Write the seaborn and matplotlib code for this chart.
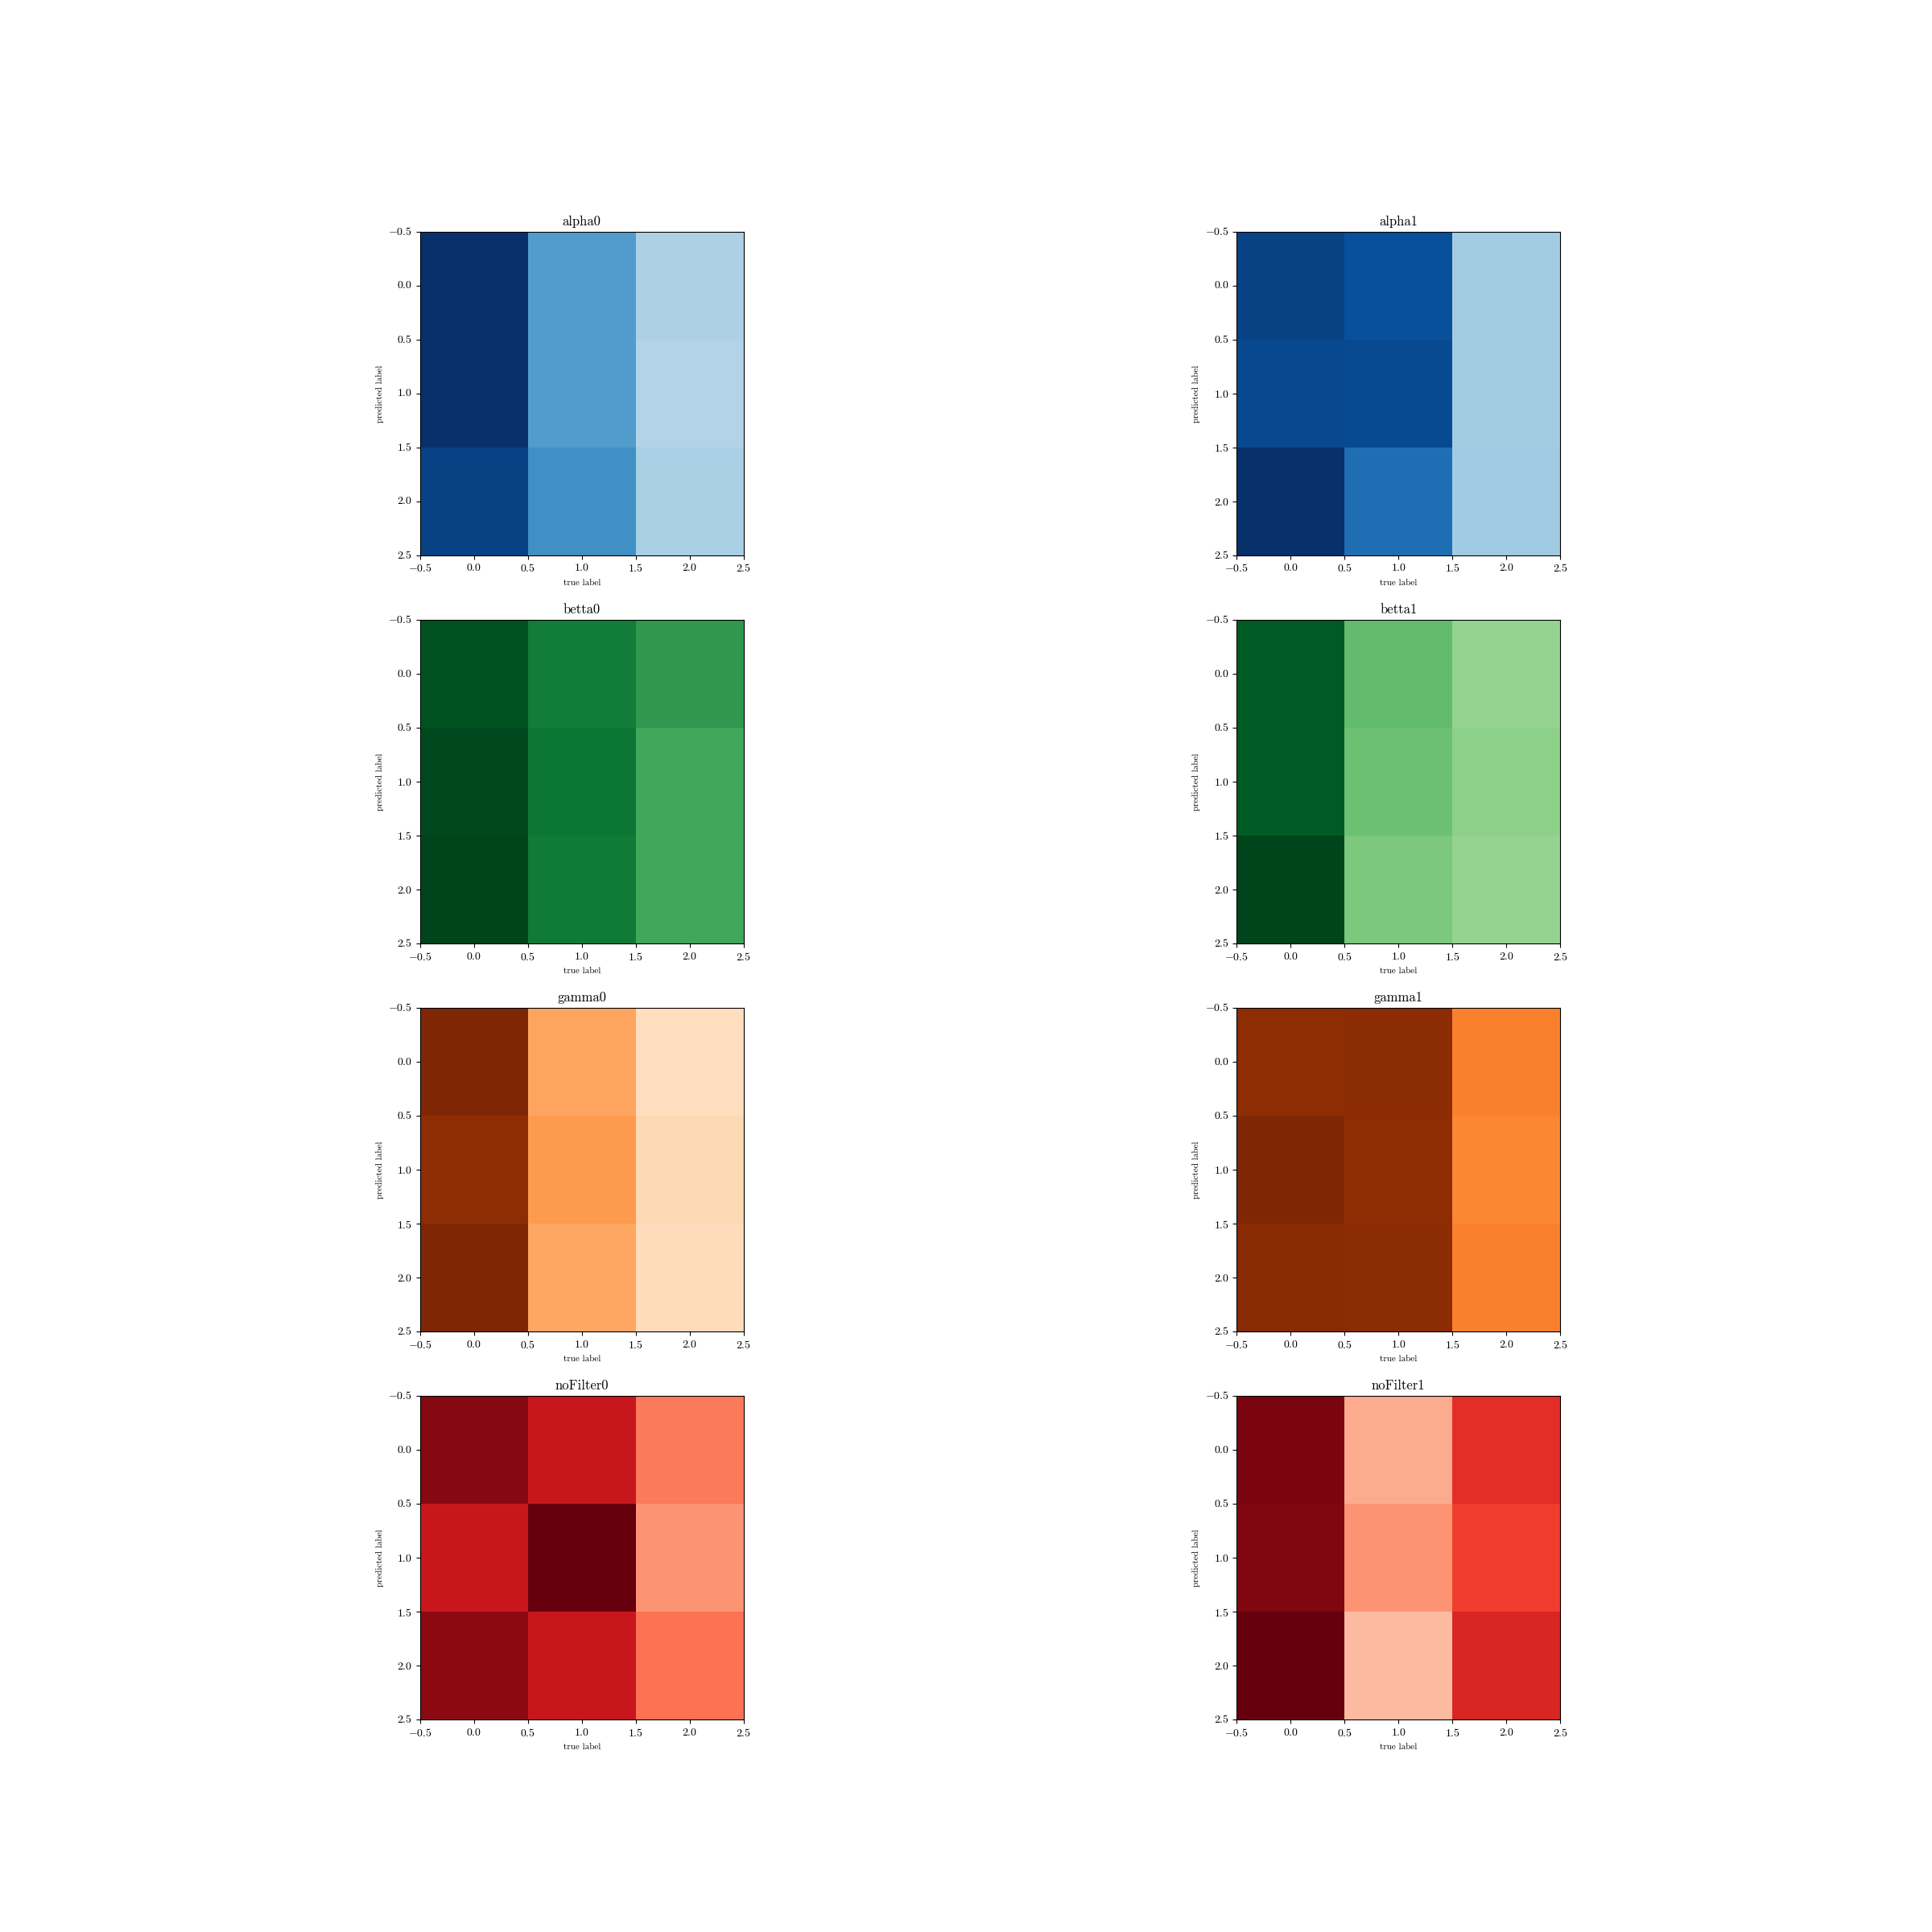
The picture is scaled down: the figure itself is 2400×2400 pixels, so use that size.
import numpy as np
import matplotlib
matplotlib.use("Agg")
import matplotlib.pyplot as plt
import seaborn as sns

# panel titles and colour maps
titles = ["alpha0", "alpha1", "betta0", "betta1", "gamma0", "gamma1", "noFilter0", "noFilter1"]
cmaps = ["Blues", "Blues", "Greens", "Greens", "Oranges", "Oranges", "Reds", "Reds"]

# confusion values (rows = predicted, cols = true)
alpha0 = [[1.00, 0.58, 0.33],
          [1.00, 0.58, 0.31],
          [0.93, 0.63, 0.34]]
alpha1 = [[0.93, 0.875, 0.36],
          [0.91, 0.90, 0.36],
          [1.00, 0.76, 0.37]]
betta0 = [[0.96, 0.81, 0.70],
          [0.985, 0.83, 0.635],
          [1.00, 0.82, 0.635]]
betta1 = [[0.93, 0.54, 0.41],
          [0.93, 0.52, 0.43],
          [1.00, 0.48, 0.41]]
gamma0 = [[1.00, 0.41, 0.17],
          [0.95, 0.45, 0.20],
          [1.00, 0.40, 0.18]]
gamma1 = [[0.95, 0.96, 0.54],
          [1.00, 0.95, 0.52],
          [0.97, 0.96, 0.54]]
noFilter0 = [[0.935, 0.76, 0.45],
             [0.76, 1.00, 0.37],
             [0.925, 0.76, 0.47]]
noFilter1 = [[0.96, 0.30, 0.67],
             [0.947, 0.37, 0.62],
             [1.00, 0.25, 0.70]]
matrices = [alpha0, alpha1, betta0, betta1, gamma0, gamma1, noFilter0, noFilter1]

tick_values = [-0.5, 0.0, 0.5, 1.0, 1.5, 2.0, 2.5]

plt.rcParams["font.family"] = "serif"
plt.rcParams["font.serif"] = ["cmr10", "DejaVu Serif"]
plt.rcParams["mathtext.fontset"] = "cm"
plt.rcParams["axes.unicode_minus"] = False

fig, axes = plt.subplots(4, 2, figsize=(24, 24), dpi=100)

for ax, m, title, cmap in zip(axes.flat, matrices, titles, cmaps):
    sns.heatmap(np.array(m), ax=ax, cmap=cmap, vmin=0, vmax=1, cbar=False,
                square=True, linewidths=0)
    pos = [v + 0.5 for v in tick_values]
    labels = ["$%.1f$" % v for v in tick_values]
    ax.set_xticks(pos)
    ax.set_xticklabels(labels, rotation=0, fontsize=10)
    ax.set_yticks(pos)
    ax.set_yticklabels(labels, rotation=0, fontsize=10)
    ax.tick_params(direction="out", length=3.5, width=0.8, color="black")
    for s in ax.spines.values():
        s.set_visible(True)
        s.set_color("black")
        s.set_linewidth(0.8)
    ax.set_title(title, fontsize=12)
    ax.set_xlabel("true label", fontsize=8)
    ax.set_ylabel("predicted label", fontsize=8)

fig.savefig("out.png", dpi=100)
